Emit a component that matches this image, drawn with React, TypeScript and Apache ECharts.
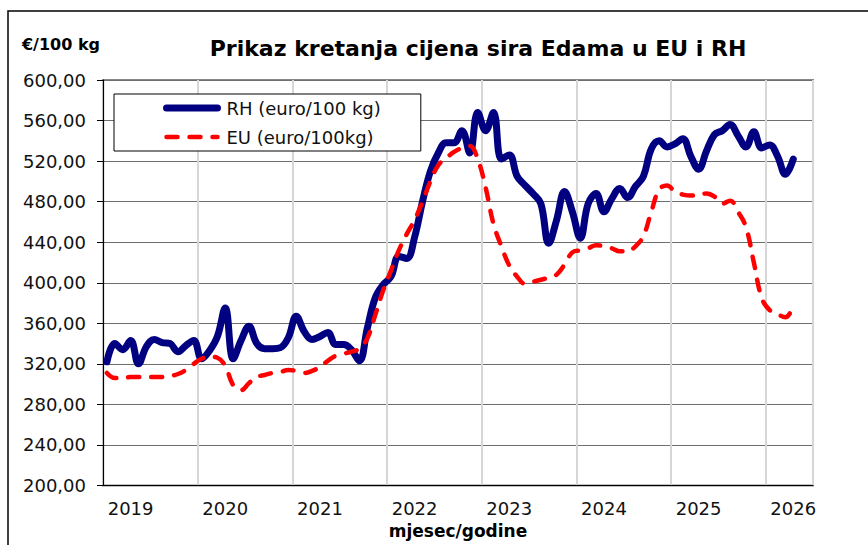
import React, { useEffect, useRef } from "react";
import * as echarts from "echarts";

const years = [2019, 2020, 2021, 2022, 2023, 2024, 2025, 2026];
const monthsInLastYear = 6;
const categories: string[] = [];
years.forEach((y, yi) => {
  const n = yi === years.length - 1 ? monthsInLastYear : 12;
  for (let m = 1; m <= n; m++) categories.push(`${y}-${m < 10 ? "0" + m : m}`);
});

const rhValues = [
  322, 340, 334, 343, 320, 337, 344, 341, 340, 332, 338, 343,
  325, 333, 347, 375, 325, 343, 357, 340, 335, 335, 336, 346,
  367, 352, 344, 347, 351, 339, 339, 334, 323, 355, 385, 398,
  406, 426, 424, 445, 480, 510, 528, 538, 538, 550, 528, 568,
  550, 568, 522, 526, 505, 496, 488, 478, 439, 462, 490, 470,
  444, 478, 488, 470, 483, 493, 484, 495, 505, 532, 540, 534,
  537, 542, 525, 512, 530, 546, 550, 556, 545, 534, 549, 533,
  536, 525, 507, 522,
];

const euValues = [
  311, 306, 306, 307, 307, 307, 307, 307, 308, 310, 314, 320,
  325, 327, 326, 318, 299, 294, 301, 307, 309, 311, 312, 314,
  313, 311, 313, 317, 323, 328, 330, 332, 335, 345, 368, 392,
  412, 432, 448, 462, 480, 500, 516, 523, 529, 533, 535, 522,
  494, 458, 436, 417, 406, 399, 401, 403, 405, 408, 418, 430,
  432, 434, 437, 436, 434, 431, 431, 436, 446, 470, 492, 496,
  490, 487, 486, 487, 488, 485, 478, 481, 470, 455, 420, 385,
  373, 369, 366, 377,
];

const seriesNames = ["RH (euro/100 kg)", "EU (euro/100kg)"];
const titleText = "Prikaz kretanja cijena sira Edama u EU i RH";
const yUnit = "€/100 kg";
const xName = "mjesec/godine";

const FONT = "DejaVu Sans";
const RH_COLOR = "#000080";
const EU_COLOR = "#ff0000";
const EU_DASH = [11, 12];

export default function App() {
  const ref = useRef<HTMLDivElement>(null);
  useEffect(() => {
    if (!ref.current) return;
    const chart = echarts.init(ref.current, undefined, { renderer: "svg" });
    chart.setOption({
      animation: false,
      backgroundColor: "#ffffff",
      title: {
        text: titleText,
        left: 478,
        top: 37,
        padding: 0,
        textAlign: "center",
        textStyle: { fontFamily: FONT, fontSize: 22, fontWeight: "bold", color: "#000" },
      },
      graphic: [
        {
          type: "rect",
          shape: { x: 8, y: 11, width: 900, height: 600 },
          style: { fill: "none", stroke: "#000", lineWidth: 1.5 },
          silent: true,
        },
      ],
      legend: {
        orient: "vertical",
        left: 114,
        top: 94,
        padding: [5, 40, 5, 49],
        itemWidth: 51,
        itemHeight: 18,
        itemGap: 11,
        backgroundColor: "#fff",
        borderColor: "#000",
        borderWidth: 1,
        itemStyle: { color: "rgba(0,0,0,0)", borderWidth: 0, opacity: 0 },
        textStyle: {
          fontFamily: FONT,
          fontSize: 18,
          lineHeight: 18,
          color: "#111",
          padding: [0, 0, 0, 4],
        },
        data: [
          {
            name: seriesNames[0],
            lineStyle: { color: RH_COLOR, width: 7, cap: "round" },
          },
          {
            name: seriesNames[1],
            lineStyle: { color: EU_COLOR, width: 4.5, type: EU_DASH, cap: "round" },
          },
        ],
      },
      grid: {
        left: 103,
        right: 55,
        top: 80,
        bottom: 59.5,
        show: true,
        borderColor: "#888",
        borderWidth: 2,
      },
      xAxis: {
        type: "category",
        data: categories,
        boundaryGap: true,
        name: xName,
        nameLocation: "middle",
        nameGap: 36,
        nameTextStyle: { fontFamily: FONT, fontSize: 17, fontWeight: "bold", color: "#000" },
        axisLine: { lineStyle: { color: "#000", width: 1.2 } },
        axisTick: { interval: 11, length: 7, lineStyle: { color: "#000" } },
        axisLabel: {
          interval: (i: number) => i % 12 === 3,
          formatter: (v: string) => v.slice(0, 4),
          margin: 14,
          fontFamily: FONT,
          fontSize: 18,
          color: "#111",
        },
        splitLine: { show: true, interval: 11, lineStyle: { color: "#d6d6d6", width: 2 } },
      },
      yAxis: {
        type: "value",
        min: 200,
        max: 600,
        interval: 40,
        name: yUnit,
        nameLocation: "end",
        nameGap: 36,
        nameTextStyle: {
          fontFamily: FONT,
          fontSize: 16,
          fontWeight: "bold",
          color: "#000",
          align: "right",
          verticalAlign: "middle",
          padding: [0, 3, 0, 0],
        },
        axisLine: { show: true, lineStyle: { color: "#000", width: 1.2 } },
        axisTick: { show: true, length: 6, lineStyle: { color: "#000" } },
        axisLabel: {
          margin: 17,
          fontFamily: FONT,
          fontSize: 18,
          color: "#111",
          formatter: (v: number) => v.toFixed(2).replace(".", ","),
        },
        splitLine: { show: true, lineStyle: { color: "#6e6e6e", width: 1.2 } },
      },
      series: [
        {
          name: seriesNames[0],
          type: "line",
          data: rhValues,
          smooth: 0.4,
          symbol: "none",
          z: 3,
          lineStyle: { color: RH_COLOR, width: 7, cap: "round", join: "round" },
          itemStyle: { color: RH_COLOR },
        },
        {
          name: seriesNames[1],
          type: "line",
          data: euValues,
          smooth: 0.4,
          symbol: "none",
          z: 4,
          lineStyle: { color: EU_COLOR, width: 4.5, type: EU_DASH, cap: "round", join: "round" },
          itemStyle: { color: EU_COLOR },
        },
      ],
    });
    return () => chart.dispose();
  }, []);
  return (
    <div
      ref={ref}
      style={{ position: "fixed", left: 0, top: 0, width: 868, height: 545, background: "#fff" }}
    />
  );
}
